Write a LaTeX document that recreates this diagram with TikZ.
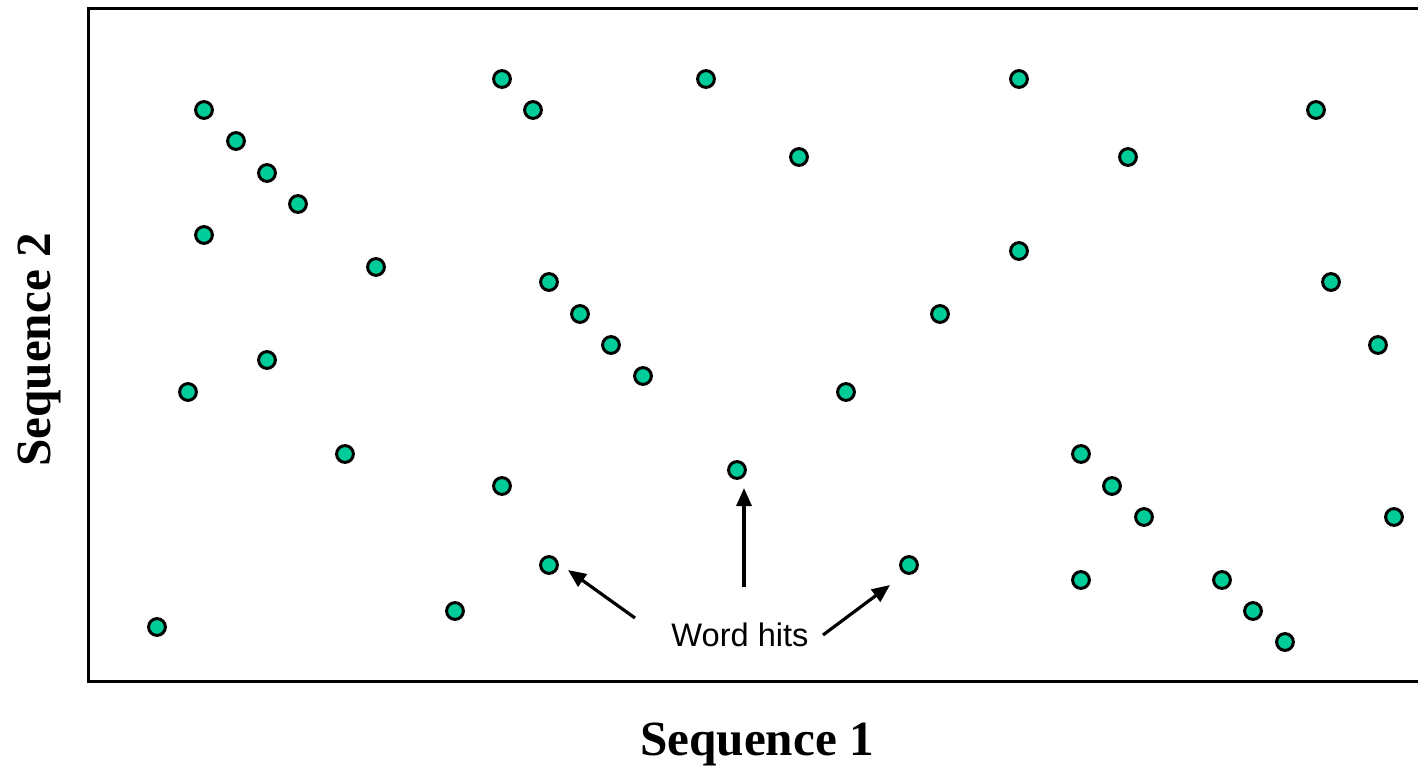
\documentclass[tikz,border=0pt]{standalone}
\usepackage{fontspec}
\setmainfont{Liberation Serif}
\newfontfamily\arialfont{Liberation Sans}
\usetikzlibrary{arrows.meta,calc}
\definecolor{hit}{RGB}{0,204,153}
\tikzset{
  hitdot/.style={circle, draw=black, fill=hit, line width=1.5pt, minimum size=8.4pt, inner sep=0pt},
  frameline/.style={line width=1.5pt, line cap=butt},
  pointer/.style={line width=1.6pt, -{Triangle[length=9pt,width=7.5pt]}},
  axislabel/.style={font=\fontsize{24.6}{29}\selectfont\bfseries},
}
\begin{document}
\begin{tikzpicture}[x=0.5pt,y=-0.5pt]
\useasboundingbox (0,0) rectangle (1418,770);
\draw[frameline] (1418,9) -- (88,9) -- (88,681) -- (1418,681);
\foreach \n/\x/\y in {
 a1/204/110, a2/236/141, a3/267/173, a4/298/204, a5/204/235, a6/376/267,
 a7/267/360, a8/188/392, a9/345/454, a10/157/627,
 b1/502/79, b2/533/110, b3/549/282, b4/580/314, b5/611/345, b6/643/376,
 b7/502/486, b8/549/565, b9/455/611,
 c1/706/79, c2/799/157, c3/737/470, c4/846/392, c5/909/565, c6/940/314,
 d1/1019/79, d2/1128/157, d3/1019/251, d4/1081/454, d5/1112/486, d6/1144/517,
 d7/1081/580, d8/1222/580, d9/1253/611, d10/1285/642,
 e1/1316/110, e2/1331/282, e3/1378/345, e4/1394/517}
 \node[hitdot] (\n) at (\x,\y) {};
\node[font=\arialfont\fontsize{16.3}{19}\selectfont] (wh) at (740,635) {Word hits};
\coordinate (wl) at (635,618);
\coordinate (wv) at (744,587);
\coordinate (wr) at (823,635);
\draw[pointer] (wl) -- ($(b8)+(19,5)$);
\draw[pointer] (wv) -- ($(c3)+(7,18)$);
\draw[pointer] (wr) -- ($(c5)+(-19,20)$);
\node[axislabel] (s1) at (757,744) {Sequence 1};
\node[axislabel, rotate=90] (s2) at (39,350) {Sequence 2};
\end{tikzpicture}
\end{document}
